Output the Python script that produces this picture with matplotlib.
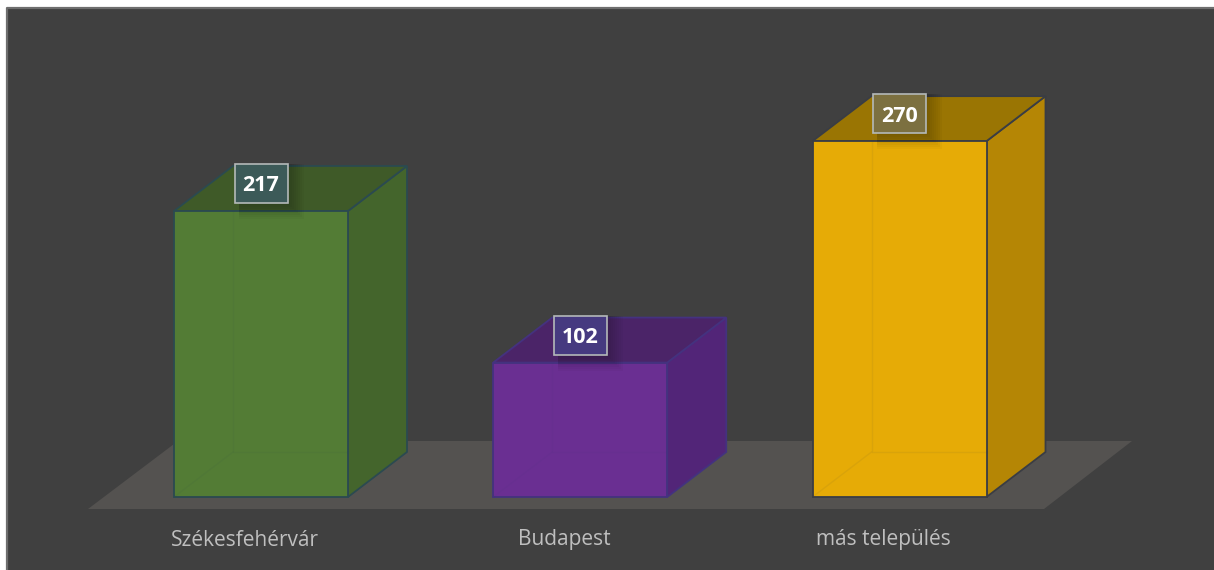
import matplotlib
matplotlib.use("Agg")
import matplotlib.pyplot as plt
from matplotlib.patches import Rectangle

categories = ["Székesfehérvár", "Budapest", "más település"]
values = [217, 102, 270]

front_colors = ["#537c35", "#6a2f92", "#e6ab06"]
top_colors = ["#3f5a28", "#4b2468", "#9a7503"]
side_colors = ["#44652c", "#522578", "#b58605"]
edge_colors = ["#2b4a50", "#44327f", "#3a3d44"]
box_colors = ["#3c5a58", "#463a80", "#7c7040"]

W, H = 1214, 570
X0, X_STEP = 261, 319.25   # pixel centre of first bar, bar spacing
Y0, Y_SCALE = 497, 1.318   # pixel y of value 0, pixels per unit
BAR_W = 174 / X_STEP
DX = 59 / X_STEP
DY = 45 / Y_SCALE
BOX_W, BOX_H = 53 / X_STEP, 39 / Y_SCALE
LABEL_SHIFT = -16 / X_STEP  # category labels sit a bit left of the bars


def px_x(p):
    return (p - X0) / X_STEP


def px_y(p):
    return (Y0 - p) / Y_SCALE


fig = plt.figure(figsize=(W / 100, H / 100), dpi=100, facecolor="white")
ax = fig.add_axes([0, 0, 1, 1])
ax.set_xlim(px_x(0), px_x(W))
ax.set_ylim(px_y(H), px_y(0))
ax.axis("off")

# dark panel, lighter border on the left and top only
ax.add_patch(Rectangle((px_x(7), px_y(H)), px_x(W) - px_x(7), px_y(8) - px_y(H),
                       facecolor="#404040", lw=0, zorder=0))
ax.plot([px_x(7), px_x(7), px_x(W)], [px_y(H), px_y(8), px_y(8)],
        color="#6e6e6e", lw=1.6, zorder=0.5)

# floor
ax.fill([px_x(88), px_x(1044), px_x(1132), px_x(178)],
        [px_y(509), px_y(509), px_y(441), px_y(441)],
        color="#545250", lw=0, zorder=1)

for i, v in enumerate(values):
    l, r = i - BAR_W / 2, i + BAR_W / 2
    z = 2 + i
    edge = edge_colors[i]
    # side, top and front faces
    ax.fill([r, r + DX, r + DX, r], [0, DY, v + DY, v],
            facecolor=side_colors[i], edgecolor=edge, lw=1.3, zorder=z)
    ax.fill([l, r, r + DX, l + DX], [v, v, v + DY, v + DY],
            facecolor=top_colors[i], edgecolor=edge, lw=1.3, zorder=z)
    ax.fill([l, r, r, l], [0, 0, v, v],
            facecolor=front_colors[i], edgecolor=edge, lw=1.3, zorder=z + 0.1)
    # back lines showing faintly through the front
    ax.plot([l + DX, l + DX, r], [v, DY, DY], color=edge, lw=1.0, alpha=0.07, zorder=z + 0.15)
    ax.plot([l, l + DX], [0, DY], color=edge, lw=1.0, alpha=0.07, zorder=z + 0.15)

    # soft shadow below the value box
    yc = v + 20.9
    bl = i - BOX_W / 2
    for grow in range(2, 18, 2):
        ax.add_patch(Rectangle((bl + 4 / X_STEP, yc - BOX_H / 2 - grow / Y_SCALE),
                               BOX_W - 4 / X_STEP + grow / X_STEP, BOX_H + grow / Y_SCALE,
                               facecolor="black", alpha=0.028, lw=0, zorder=z + 0.2))

    ax.add_patch(Rectangle((bl, yc - BOX_H / 2), BOX_W, BOX_H, facecolor=box_colors[i],
                           edgecolor="#b4b9b9", lw=1.2, zorder=z + 0.3))
    ax.text(i, yc, str(v), ha="center", va="center_baseline", color="white", fontsize=15.5,
            fontweight="bold", family="Open Sans", zorder=z + 0.4)

    ax.text(i + LABEL_SHIFT, px_y(540), categories[i], ha="center", va="center",
            color="#bfbfbf", fontsize=15, family="Open Sans", zorder=8)

fig.savefig("out.png", dpi=100)
